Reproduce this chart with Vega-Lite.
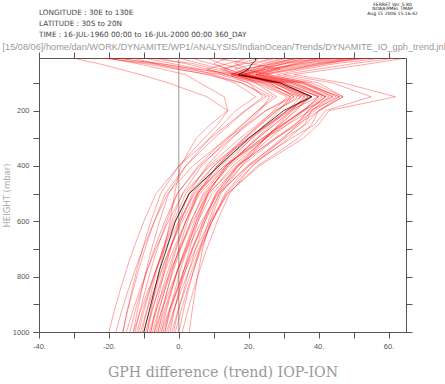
{
"$schema": "https://vega.github.io/schema/vega-lite/v6.json",
"autosize": {"type": "none"},
"padding": {"left": 39, "top": 58, "right": 39, "bottom": 52},
"width": 367,
"height": 274,
"config": {"view": {"stroke": null}, "axis": {"grid": false}},
"title": {"text": ["LONGITUDE : 30E to 130E", "LATITUDE : 30S to 20N", "TIME : 16-JUL-1960 00:00 to 16-JUL-2000 00:00 360_DAY"], "anchor": "start", "frame": "group", "font": "DejaVu Sans", "fontSize": 7.3, "fontWeight": "normal", "color": "#444", "lineHeight": 11, "baseline": "bottom", "offset": -45},
"data": {"values": [
{"s":0,"p":1000,"v":-10},{"s":0,"p":925,"v":-8.5},{"s":0,"p":850,"v":-7},{"s":0,"p":775,"v":-5.5},{"s":0,"p":700,"v":-3.5},{"s":0,"p":600,"v":-1},{"s":0,"p":500,"v":3},{"s":0,"p":400,"v":11.5},{"s":0,"p":300,"v":20},{"s":0,"p":250,"v":25},{"s":0,"p":200,"v":30},{"s":0,"p":150,"v":38},{"s":0,"p":100,"v":29},{"s":0,"p":70,"v":17},{"s":0,"p":50,"v":20},{"s":0,"p":30,"v":21},{"s":0,"p":20,"v":22},{"s":0,"p":10,"v":22},
{"s":1,"p":1000,"v":-20},{"s":1,"p":925,"v":-18.5},{"s":1,"p":850,"v":-16.8},{"s":1,"p":775,"v":-15},{"s":1,"p":700,"v":-13},{"s":1,"p":600,"v":-10},{"s":1,"p":500,"v":-6.5},{"s":1,"p":400,"v":0},{"s":1,"p":300,"v":9},{"s":1,"p":250,"v":14},{"s":1,"p":200,"v":19},{"s":1,"p":150,"v":25},{"s":1,"p":100,"v":18},{"s":1,"p":70,"v":10},{"s":1,"p":50,"v":4},{"s":1,"p":30,"v":-5},{"s":1,"p":20,"v":-12},{"s":1,"p":10,"v":-18},
{"s":2,"p":1000,"v":-18},{"s":2,"p":925,"v":-16.4},{"s":2,"p":850,"v":-14.5},{"s":2,"p":775,"v":-12.5},{"s":2,"p":700,"v":-10.3},{"s":2,"p":600,"v":-7},{"s":2,"p":500,"v":-3.2},{"s":2,"p":400,"v":4},{"s":2,"p":300,"v":13.9},{"s":2,"p":250,"v":19.4},{"s":2,"p":200,"v":24.9},{"s":2,"p":150,"v":32},{"s":2,"p":100,"v":24},{"s":2,"p":70,"v":15},{"s":2,"p":50,"v":19},{"s":2,"p":30,"v":28},{"s":2,"p":20,"v":33},{"s":2,"p":10,"v":38},
{"s":3,"p":1000,"v":-16},{"s":3,"p":925,"v":-14.7},{"s":3,"p":850,"v":-13.1},{"s":3,"p":775,"v":-11.5},{"s":3,"p":700,"v":-9.7},{"s":3,"p":600,"v":-7},{"s":3,"p":500,"v":-3.9},{"s":3,"p":400,"v":2},{"s":3,"p":300,"v":10.1},{"s":3,"p":250,"v":14.6},{"s":3,"p":200,"v":19.1},{"s":3,"p":150,"v":24},{"s":3,"p":100,"v":20},{"s":3,"p":70,"v":14},{"s":3,"p":50,"v":8},{"s":3,"p":30,"v":2},{"s":3,"p":20,"v":-3},{"s":3,"p":10,"v":-8},
{"s":4,"p":1000,"v":-15},{"s":4,"p":925,"v":-13.2},{"s":4,"p":850,"v":-11.2},{"s":4,"p":775,"v":-9},{"s":4,"p":700,"v":-6.6},{"s":4,"p":600,"v":-3},{"s":4,"p":500,"v":1.2},{"s":4,"p":400,"v":9},{"s":4,"p":300,"v":19.8},{"s":4,"p":250,"v":25.8},{"s":4,"p":200,"v":31.8},{"s":4,"p":150,"v":40},{"s":4,"p":100,"v":30},{"s":4,"p":70,"v":18},{"s":4,"p":50,"v":25},{"s":4,"p":30,"v":35},{"s":4,"p":20,"v":42},{"s":4,"p":10,"v":50},
{"s":5,"p":1000,"v":-14},{"s":5,"p":925,"v":-12.5},{"s":5,"p":850,"v":-10.8},{"s":5,"p":775,"v":-9},{"s":5,"p":700,"v":-7},{"s":5,"p":600,"v":-4},{"s":5,"p":500,"v":-0.5},{"s":5,"p":400,"v":6},{"s":5,"p":300,"v":15},{"s":5,"p":250,"v":20},{"s":5,"p":200,"v":25},{"s":5,"p":150,"v":33},{"s":5,"p":100,"v":26},{"s":5,"p":70,"v":16},{"s":5,"p":50,"v":12},{"s":5,"p":30,"v":18},{"s":5,"p":20,"v":20},{"s":5,"p":10,"v":24},
{"s":6,"p":1000,"v":-13},{"s":6,"p":925,"v":-11},{"s":6,"p":850,"v":-8.8},{"s":6,"p":775,"v":-6.5},{"s":6,"p":700,"v":-3.9},{"s":6,"p":600,"v":0},{"s":6,"p":500,"v":4.6},{"s":6,"p":400,"v":13},{"s":6,"p":300,"v":24.7},{"s":6,"p":250,"v":31.2},{"s":6,"p":200,"v":37.7},{"s":6,"p":150,"v":46},{"s":6,"p":100,"v":35},{"s":6,"p":70,"v":22},{"s":6,"p":50,"v":30},{"s":6,"p":30,"v":40},{"s":6,"p":20,"v":48},{"s":6,"p":10,"v":55},
{"s":7,"p":1000,"v":-12.5},{"s":7,"p":925,"v":-11.2},{"s":7,"p":850,"v":-9.6},{"s":7,"p":775,"v":-8},{"s":7,"p":700,"v":-6.2},{"s":7,"p":600,"v":-3.5},{"s":7,"p":500,"v":-0.4},{"s":7,"p":400,"v":5.5},{"s":7,"p":300,"v":13.6},{"s":7,"p":250,"v":18.1},{"s":7,"p":200,"v":22.6},{"s":7,"p":150,"v":28},{"s":7,"p":100,"v":22},{"s":7,"p":70,"v":17},{"s":7,"p":50,"v":5},{"s":7,"p":30,"v":-6},{"s":7,"p":20,"v":-12},{"s":7,"p":10,"v":-17},
{"s":8,"p":1000,"v":-12},{"s":8,"p":925,"v":-10.4},{"s":8,"p":850,"v":-8.5},{"s":8,"p":775,"v":-6.5},{"s":8,"p":700,"v":-4.3},{"s":8,"p":600,"v":-1},{"s":8,"p":500,"v":2.9},{"s":8,"p":400,"v":10},{"s":8,"p":300,"v":19.9},{"s":8,"p":250,"v":25.4},{"s":8,"p":200,"v":30.9},{"s":8,"p":150,"v":38},{"s":8,"p":100,"v":28},{"s":8,"p":70,"v":16},{"s":8,"p":50,"v":22},{"s":8,"p":30,"v":30},{"s":8,"p":20,"v":35},{"s":8,"p":10,"v":42},
{"s":9,"p":1000,"v":-11.5},{"s":9,"p":925,"v":-10},{"s":9,"p":850,"v":-8.3},{"s":9,"p":775,"v":-6.5},{"s":9,"p":700,"v":-4.5},{"s":9,"p":600,"v":-1.5},{"s":9,"p":500,"v":2},{"s":9,"p":400,"v":8.5},{"s":9,"p":300,"v":17.5},{"s":9,"p":250,"v":22.5},{"s":9,"p":200,"v":27.5},{"s":9,"p":150,"v":35},{"s":9,"p":100,"v":27},{"s":9,"p":70,"v":19},{"s":9,"p":50,"v":14},{"s":9,"p":30,"v":10},{"s":9,"p":20,"v":12},{"s":9,"p":10,"v":15},
{"s":10,"p":1000,"v":-11},{"s":10,"p":925,"v":-9.2},{"s":10,"p":850,"v":-7.2},{"s":10,"p":775,"v":-5},{"s":10,"p":700,"v":-2.6},{"s":10,"p":600,"v":1},{"s":10,"p":500,"v":5.2},{"s":10,"p":400,"v":13},{"s":10,"p":300,"v":23.8},{"s":10,"p":250,"v":29.8},{"s":10,"p":200,"v":35.8},{"s":10,"p":150,"v":42},{"s":10,"p":100,"v":33},{"s":10,"p":70,"v":21},{"s":10,"p":50,"v":27},{"s":10,"p":30,"v":33},{"s":10,"p":20,"v":38},{"s":10,"p":10,"v":45},
{"s":11,"p":1000,"v":-10.5},{"s":11,"p":925,"v":-9.2},{"s":11,"p":850,"v":-7.8},{"s":11,"p":775,"v":-6.3},{"s":11,"p":700,"v":-4.6},{"s":11,"p":600,"v":-2},{"s":11,"p":500,"v":1},{"s":11,"p":400,"v":6.5},{"s":11,"p":300,"v":14.2},{"s":11,"p":250,"v":18.4},{"s":11,"p":200,"v":22.7},{"s":11,"p":150,"v":27},{"s":11,"p":100,"v":20},{"s":11,"p":70,"v":12},{"s":11,"p":50,"v":2},{"s":11,"p":30,"v":-8},{"s":11,"p":20,"v":-15},{"s":11,"p":10,"v":-22},
{"s":12,"p":1000,"v":-10},{"s":12,"p":925,"v":-8.4},{"s":12,"p":850,"v":-6.6},{"s":12,"p":775,"v":-4.8},{"s":12,"p":700,"v":-2.7},{"s":12,"p":600,"v":0.5},{"s":12,"p":500,"v":4.2},{"s":12,"p":400,"v":11},{"s":12,"p":300,"v":20.5},{"s":12,"p":250,"v":25.7},{"s":12,"p":200,"v":31},{"s":12,"p":150,"v":38},{"s":12,"p":100,"v":30},{"s":12,"p":70,"v":18},{"s":12,"p":50,"v":24},{"s":12,"p":30,"v":26},{"s":12,"p":20,"v":30},{"s":12,"p":10,"v":33},
{"s":13,"p":1000,"v":-9.5},{"s":13,"p":925,"v":-7.8},{"s":13,"p":850,"v":-5.8},{"s":13,"p":775,"v":-3.8},{"s":13,"p":700,"v":-1.5},{"s":13,"p":600,"v":2},{"s":13,"p":500,"v":6},{"s":13,"p":400,"v":13.5},{"s":13,"p":300,"v":23.9},{"s":13,"p":250,"v":29.6},{"s":13,"p":200,"v":35.4},{"s":13,"p":150,"v":44},{"s":13,"p":100,"v":36},{"s":13,"p":70,"v":24},{"s":13,"p":50,"v":32},{"s":13,"p":30,"v":42},{"s":13,"p":20,"v":46},{"s":13,"p":10,"v":52},
{"s":14,"p":1000,"v":-9},{"s":14,"p":925,"v":-7.6},{"s":14,"p":850,"v":-6},{"s":14,"p":775,"v":-4.3},{"s":14,"p":700,"v":-2.4},{"s":14,"p":600,"v":0.5},{"s":14,"p":500,"v":3.8},{"s":14,"p":400,"v":10},{"s":14,"p":300,"v":18.6},{"s":14,"p":250,"v":23.3},{"s":14,"p":200,"v":28},{"s":14,"p":150,"v":34},{"s":14,"p":100,"v":25},{"s":14,"p":70,"v":15},{"s":14,"p":50,"v":20},{"s":14,"p":30,"v":16},{"s":14,"p":20,"v":18},{"s":14,"p":10,"v":20},
{"s":15,"p":1000,"v":-8.5},{"s":15,"p":925,"v":-6.6},{"s":15,"p":850,"v":-4.5},{"s":15,"p":775,"v":-2.3},{"s":15,"p":700,"v":0.3},{"s":15,"p":600,"v":4},{"s":15,"p":500,"v":8.4},{"s":15,"p":400,"v":16.5},{"s":15,"p":300,"v":27.8},{"s":15,"p":250,"v":34},{"s":15,"p":200,"v":40.3},{"s":15,"p":150,"v":47},{"s":15,"p":100,"v":40},{"s":15,"p":70,"v":28},{"s":15,"p":50,"v":36},{"s":15,"p":30,"v":45},{"s":15,"p":20,"v":52},{"s":15,"p":10,"v":58},
{"s":16,"p":1000,"v":-8},{"s":16,"p":925,"v":-6.5},{"s":16,"p":850,"v":-4.8},{"s":16,"p":775,"v":-3},{"s":16,"p":700,"v":-1},{"s":16,"p":600,"v":2},{"s":16,"p":500,"v":5.5},{"s":16,"p":400,"v":12},{"s":16,"p":300,"v":21},{"s":16,"p":250,"v":26},{"s":16,"p":200,"v":31},{"s":16,"p":150,"v":37},{"s":16,"p":100,"v":28},{"s":16,"p":70,"v":17},{"s":16,"p":50,"v":12},{"s":16,"p":30,"v":6},{"s":16,"p":20,"v":3},{"s":16,"p":10,"v":0},
{"s":17,"p":1000,"v":-8},{"s":17,"p":925,"v":-6.8},{"s":17,"p":850,"v":-5.4},{"s":17,"p":775,"v":-4},{"s":17,"p":700,"v":-2.4},{"s":17,"p":600,"v":0},{"s":17,"p":500,"v":2.8},{"s":17,"p":400,"v":8},{"s":17,"p":300,"v":15.2},{"s":17,"p":250,"v":19.2},{"s":17,"p":200,"v":23.2},{"s":17,"p":150,"v":26},{"s":17,"p":100,"v":18},{"s":17,"p":70,"v":8},{"s":17,"p":50,"v":0},{"s":17,"p":30,"v":-7},{"s":17,"p":20,"v":-10},{"s":17,"p":10,"v":-13},
{"s":18,"p":1000,"v":-7.5},{"s":18,"p":925,"v":-5.9},{"s":18,"p":850,"v":-4},{"s":18,"p":775,"v":-2},{"s":18,"p":700,"v":0.2},{"s":18,"p":600,"v":3.5},{"s":18,"p":500,"v":7.4},{"s":18,"p":400,"v":14.5},{"s":18,"p":300,"v":24.4},{"s":18,"p":250,"v":29.9},{"s":18,"p":200,"v":35.4},{"s":18,"p":150,"v":41},{"s":18,"p":100,"v":32},{"s":18,"p":70,"v":18},{"s":18,"p":50,"v":26},{"s":18,"p":30,"v":36},{"s":18,"p":20,"v":40},{"s":18,"p":10,"v":46},
{"s":19,"p":1000,"v":-7},{"s":19,"p":925,"v":-5.7},{"s":19,"p":850,"v":-4.1},{"s":19,"p":775,"v":-2.5},{"s":19,"p":700,"v":-0.7},{"s":19,"p":600,"v":2},{"s":19,"p":500,"v":5.2},{"s":19,"p":400,"v":11},{"s":19,"p":300,"v":19.1},{"s":19,"p":250,"v":23.6},{"s":19,"p":200,"v":28.1},{"s":19,"p":150,"v":33},{"s":19,"p":100,"v":26},{"s":19,"p":70,"v":20},{"s":19,"p":50,"v":16},{"s":19,"p":30,"v":22},{"s":19,"p":20,"v":25},{"s":19,"p":10,"v":28},
{"s":20,"p":1000,"v":-7},{"s":20,"p":925,"v":-5},{"s":20,"p":850,"v":-2.7},{"s":20,"p":775,"v":-0.3},{"s":20,"p":700,"v":2.5},{"s":20,"p":600,"v":6.5},{"s":20,"p":500,"v":11.2},{"s":20,"p":400,"v":20},{"s":20,"p":300,"v":32.2},{"s":20,"p":250,"v":38.9},{"s":20,"p":200,"v":42},{"s":20,"p":150,"v":55},{"s":20,"p":100,"v":44},{"s":20,"p":70,"v":30},{"s":20,"p":50,"v":40},{"s":20,"p":30,"v":50},{"s":20,"p":20,"v":56},{"s":20,"p":10,"v":62},
{"s":21,"p":1000,"v":-6.5},{"s":21,"p":925,"v":-5},{"s":21,"p":850,"v":-3.3},{"s":21,"p":775,"v":-1.5},{"s":21,"p":700,"v":0.5},{"s":21,"p":600,"v":3.5},{"s":21,"p":500,"v":7},{"s":21,"p":400,"v":13.5},{"s":21,"p":300,"v":22.5},{"s":21,"p":250,"v":27.5},{"s":21,"p":200,"v":32.5},{"s":21,"p":150,"v":38},{"s":21,"p":100,"v":29},{"s":21,"p":70,"v":17},{"s":21,"p":50,"v":21},{"s":21,"p":30,"v":24},{"s":21,"p":20,"v":27},{"s":21,"p":10,"v":30},
{"s":22,"p":1000,"v":-6},{"s":22,"p":925,"v":-4.3},{"s":22,"p":850,"v":-2.3},{"s":22,"p":775,"v":-0.3},{"s":22,"p":700,"v":2.1},{"s":22,"p":600,"v":5.5},{"s":22,"p":500,"v":9.5},{"s":22,"p":400,"v":17},{"s":22,"p":300,"v":27.4},{"s":22,"p":250,"v":33.1},{"s":22,"p":200,"v":38.9},{"s":22,"p":150,"v":45},{"s":22,"p":100,"v":37},{"s":22,"p":70,"v":26},{"s":22,"p":50,"v":18},{"s":22,"p":30,"v":12},{"s":22,"p":20,"v":10},{"s":22,"p":10,"v":8},
{"s":23,"p":1000,"v":-6},{"s":23,"p":925,"v":-4.7},{"s":23,"p":850,"v":-3.3},{"s":23,"p":775,"v":-1.8},{"s":23,"p":700,"v":0},{"s":23,"p":600,"v":2.5},{"s":23,"p":500,"v":5.5},{"s":23,"p":400,"v":11},{"s":23,"p":300,"v":18.7},{"s":23,"p":250,"v":22.9},{"s":23,"p":200,"v":27.2},{"s":23,"p":150,"v":31},{"s":23,"p":100,"v":22},{"s":23,"p":70,"v":14},{"s":23,"p":50,"v":8},{"s":23,"p":30,"v":14},{"s":23,"p":20,"v":17},{"s":23,"p":10,"v":19},
{"s":24,"p":1000,"v":-5.5},{"s":24,"p":925,"v":-3.9},{"s":24,"p":850,"v":-2.1},{"s":24,"p":775,"v":-0.3},{"s":24,"p":700,"v":1.9},{"s":24,"p":600,"v":5},{"s":24,"p":500,"v":8.7},{"s":24,"p":400,"v":15.5},{"s":24,"p":300,"v":25},{"s":24,"p":250,"v":30.2},{"s":24,"p":200,"v":35.5},{"s":24,"p":150,"v":40},{"s":24,"p":100,"v":31},{"s":24,"p":70,"v":19},{"s":24,"p":50,"v":28},{"s":24,"p":30,"v":38},{"s":24,"p":20,"v":44},{"s":24,"p":10,"v":48},
{"s":25,"p":1000,"v":-5},{"s":25,"p":925,"v":-2.9},{"s":25,"p":850,"v":-0.5},{"s":25,"p":775,"v":2},{"s":25,"p":700,"v":4.8},{"s":25,"p":600,"v":9},{"s":25,"p":500,"v":13.9},{"s":25,"p":400,"v":23},{"s":25,"p":300,"v":35.6},{"s":25,"p":250,"v":40},{"s":25,"p":200,"v":43},{"s":25,"p":150,"v":62},{"s":25,"p":100,"v":47},{"s":25,"p":70,"v":33},{"s":25,"p":50,"v":44},{"s":25,"p":30,"v":55},{"s":25,"p":20,"v":60},{"s":25,"p":10,"v":65},
{"s":26,"p":1000,"v":-5},{"s":26,"p":925,"v":-3.6},{"s":26,"p":850,"v":-2},{"s":26,"p":775,"v":-0.3},{"s":26,"p":700,"v":1.7},{"s":26,"p":600,"v":4.5},{"s":26,"p":500,"v":7.8},{"s":26,"p":400,"v":14},{"s":26,"p":300,"v":22.6},{"s":26,"p":250,"v":27.3},{"s":26,"p":200,"v":32},{"s":26,"p":150,"v":36},{"s":26,"p":100,"v":27},{"s":26,"p":70,"v":16},{"s":26,"p":50,"v":10},{"s":26,"p":30,"v":4},{"s":26,"p":20,"v":-2},{"s":26,"p":10,"v":-6},
{"s":27,"p":1000,"v":-4.5},{"s":27,"p":925,"v":-2.7},{"s":27,"p":850,"v":-0.7},{"s":27,"p":775,"v":1.5},{"s":27,"p":700,"v":3.9},{"s":27,"p":600,"v":7.5},{"s":27,"p":500,"v":11.7},{"s":27,"p":400,"v":19.5},{"s":27,"p":300,"v":30.3},{"s":27,"p":250,"v":36.3},{"s":27,"p":200,"v":40},{"s":27,"p":150,"v":47},{"s":27,"p":100,"v":38},{"s":27,"p":70,"v":25},{"s":27,"p":50,"v":34},{"s":27,"p":30,"v":43},{"s":27,"p":20,"v":47},{"s":27,"p":10,"v":53},
{"s":28,"p":1000,"v":-4},{"s":28,"p":925,"v":-2.7},{"s":28,"p":850,"v":-1.1},{"s":28,"p":775,"v":0.5},{"s":28,"p":700,"v":2.3},{"s":28,"p":600,"v":5},{"s":28,"p":500,"v":8.2},{"s":28,"p":400,"v":14},{"s":28,"p":300,"v":22.1},{"s":28,"p":250,"v":26.6},{"s":28,"p":200,"v":31.1},{"s":28,"p":150,"v":35},{"s":28,"p":100,"v":24},{"s":28,"p":70,"v":15},{"s":28,"p":50,"v":19},{"s":28,"p":30,"v":27},{"s":28,"p":20,"v":30},{"s":28,"p":10,"v":35},
{"s":29,"p":1000,"v":-4},{"s":29,"p":925,"v":-2.4},{"s":29,"p":850,"v":-0.5},{"s":29,"p":775,"v":1.5},{"s":29,"p":700,"v":3.7},{"s":29,"p":600,"v":7},{"s":29,"p":500,"v":10.9},{"s":29,"p":400,"v":18},{"s":29,"p":300,"v":27.9},{"s":29,"p":250,"v":33.4},{"s":29,"p":200,"v":37},{"s":29,"p":150,"v":42},{"s":29,"p":100,"v":34},{"s":29,"p":70,"v":22},{"s":29,"p":50,"v":29},{"s":29,"p":30,"v":20},{"s":29,"p":20,"v":15},{"s":29,"p":10,"v":10},
{"s":30,"p":1000,"v":-3.5},{"s":30,"p":925,"v":-1.6},{"s":30,"p":850,"v":0.7},{"s":30,"p":775,"v":3},{"s":30,"p":700,"v":5.6},{"s":30,"p":600,"v":9.5},{"s":30,"p":500,"v":14},{"s":30,"p":400,"v":22.5},{"s":30,"p":300,"v":34.2},{"s":30,"p":250,"v":38},{"s":30,"p":200,"v":40},{"s":30,"p":150,"v":46},{"s":30,"p":100,"v":36},{"s":30,"p":70,"v":23},{"s":30,"p":50,"v":33},{"s":30,"p":30,"v":40},{"s":30,"p":20,"v":45},{"s":30,"p":10,"v":50},
{"s":31,"p":1000,"v":-3},{"s":31,"p":925,"v":-1.5},{"s":31,"p":850,"v":0.2},{"s":31,"p":775,"v":2},{"s":31,"p":700,"v":4},{"s":31,"p":600,"v":7},{"s":31,"p":500,"v":10.5},{"s":31,"p":400,"v":17},{"s":31,"p":300,"v":26},{"s":31,"p":250,"v":31},{"s":31,"p":200,"v":36},{"s":31,"p":150,"v":40},{"s":31,"p":100,"v":30},{"s":31,"p":70,"v":18},{"s":31,"p":50,"v":23},{"s":31,"p":30,"v":31},{"s":31,"p":20,"v":36},{"s":31,"p":10,"v":40},
{"s":32,"p":1000,"v":-2.5},{"s":32,"p":925,"v":-1.3},{"s":32,"p":850,"v":0.1},{"s":32,"p":775,"v":1.5},{"s":32,"p":700,"v":3.1},{"s":32,"p":600,"v":5.5},{"s":32,"p":500,"v":8.3},{"s":32,"p":400,"v":13.5},{"s":32,"p":300,"v":20.7},{"s":32,"p":250,"v":24.7},{"s":32,"p":200,"v":28.7},{"s":32,"p":150,"v":32},{"s":32,"p":100,"v":23},{"s":32,"p":70,"v":13},{"s":32,"p":50,"v":6},{"s":32,"p":30,"v":-2},{"s":32,"p":20,"v":-6},{"s":32,"p":10,"v":-10},
{"s":33,"p":1000,"v":-2},{"s":33,"p":925,"v":-0.3},{"s":33,"p":850,"v":1.7},{"s":33,"p":775,"v":3.8},{"s":33,"p":700,"v":6.1},{"s":33,"p":600,"v":9.5},{"s":33,"p":500,"v":13.5},{"s":33,"p":400,"v":21},{"s":33,"p":300,"v":31.4},{"s":33,"p":250,"v":36},{"s":33,"p":200,"v":38},{"s":33,"p":150,"v":44},{"s":33,"p":100,"v":35},{"s":33,"p":70,"v":22},{"s":33,"p":50,"v":28},{"s":33,"p":30,"v":34},{"s":33,"p":20,"v":37},{"s":33,"p":10,"v":43},
{"s":34,"p":1000,"v":-1.5},{"s":34,"p":925,"v":-0.2},{"s":34,"p":850,"v":1.4},{"s":34,"p":775,"v":3},{"s":34,"p":700,"v":4.8},{"s":34,"p":600,"v":7.5},{"s":34,"p":500,"v":10.7},{"s":34,"p":400,"v":16.5},{"s":34,"p":300,"v":24.6},{"s":34,"p":250,"v":29.1},{"s":34,"p":200,"v":33.6},{"s":34,"p":150,"v":37},{"s":34,"p":100,"v":28},{"s":34,"p":70,"v":17},{"s":34,"p":50,"v":13},{"s":34,"p":30,"v":19},{"s":34,"p":20,"v":24},{"s":34,"p":10,"v":27},
{"s":35,"p":1000,"v":-1},{"s":35,"p":925,"v":0.6},{"s":35,"p":850,"v":2.4},{"s":35,"p":775,"v":4.3},{"s":35,"p":700,"v":6.4},{"s":35,"p":600,"v":9.5},{"s":35,"p":500,"v":13.2},{"s":35,"p":400,"v":20},{"s":35,"p":300,"v":29.5},{"s":35,"p":250,"v":34.7},{"s":35,"p":200,"v":38},{"s":35,"p":150,"v":43},{"s":35,"p":100,"v":33},{"s":35,"p":70,"v":20},{"s":35,"p":50,"v":25},{"s":35,"p":30,"v":30},{"s":35,"p":20,"v":33},{"s":35,"p":10,"v":36},
{"s":36,"p":1000,"v":0},{"s":36,"p":925,"v":1.3},{"s":36,"p":850,"v":2.7},{"s":36,"p":775,"v":4.3},{"s":36,"p":700,"v":6},{"s":36,"p":600,"v":8.5},{"s":36,"p":500,"v":11.5},{"s":36,"p":400,"v":17},{"s":36,"p":300,"v":24.7},{"s":36,"p":250,"v":28.9},{"s":36,"p":200,"v":33.2},{"s":36,"p":150,"v":38},{"s":36,"p":100,"v":29},{"s":36,"p":70,"v":18},{"s":36,"p":50,"v":14},{"s":36,"p":30,"v":9},{"s":36,"p":20,"v":6},{"s":36,"p":10,"v":4},
{"s":37,"p":1000,"v":1},{"s":37,"p":925,"v":2.5},{"s":37,"p":850,"v":4.2},{"s":37,"p":775,"v":6},{"s":37,"p":700,"v":8},{"s":37,"p":600,"v":11},{"s":37,"p":500,"v":14.5},{"s":37,"p":400,"v":21},{"s":37,"p":300,"v":30},{"s":37,"p":250,"v":34},{"s":37,"p":200,"v":37},{"s":37,"p":150,"v":42},{"s":37,"p":100,"v":32},{"s":37,"p":70,"v":19},{"s":37,"p":50,"v":24},{"s":37,"p":30,"v":28},{"s":37,"p":20,"v":31},{"s":37,"p":10,"v":34},
{"s":38,"p":1000,"v":3},{"s":38,"p":925,"v":3.8},{"s":38,"p":850,"v":4.7},{"s":38,"p":775,"v":5.7},{"s":38,"p":700,"v":6.8},{"s":38,"p":600,"v":9},{"s":38,"p":500,"v":12},{"s":38,"p":400,"v":18},{"s":38,"p":300,"v":24.8},{"s":38,"p":250,"v":28.5},{"s":38,"p":200,"v":32.3},{"s":38,"p":150,"v":36},{"s":38,"p":100,"v":27},{"s":38,"p":70,"v":17},{"s":38,"p":50,"v":22},{"s":38,"p":30,"v":25},{"s":38,"p":20,"v":28},{"s":38,"p":10,"v":31},
{"s":39,"p":1000,"v":-13},{"s":39,"p":925,"v":-11.9},{"s":39,"p":850,"v":-10.6},{"s":39,"p":775,"v":-9.3},{"s":39,"p":700,"v":-7.8},{"s":39,"p":600,"v":-5.5},{"s":39,"p":500,"v":-2.9},{"s":39,"p":400,"v":2},{"s":39,"p":300,"v":8.8},{"s":39,"p":250,"v":12.5},{"s":39,"p":200,"v":16.3},{"s":39,"p":150,"v":22},{"s":39,"p":100,"v":16},{"s":39,"p":70,"v":9},{"s":39,"p":50,"v":-1},{"s":39,"p":30,"v":-10},{"s":39,"p":20,"v":-16},{"s":39,"p":10,"v":-21},
{"s":40,"p":1000,"v":-9},{"s":40,"p":925,"v":-8},{"s":40,"p":850,"v":-6.8},{"s":40,"p":775,"v":-5.5},{"s":40,"p":700,"v":-4.2},{"s":40,"p":600,"v":-2.5},{"s":40,"p":500,"v":-1.2},{"s":40,"p":400,"v":0.5},{"s":40,"p":300,"v":5},{"s":40,"p":250,"v":9},{"s":40,"p":200,"v":14},{"s":40,"p":150,"v":8},{"s":40,"p":100,"v":-3},{"s":40,"p":70,"v":-11},{"s":40,"p":50,"v":-17},{"s":40,"p":30,"v":-23},{"s":40,"p":20,"v":-27},{"s":40,"p":10,"v":-30},
{"s":41,"p":1000,"v":-16},{"s":41,"p":925,"v":-14.8},{"s":41,"p":850,"v":-13.4},{"s":41,"p":775,"v":-12},{"s":41,"p":700,"v":-10.4},{"s":41,"p":600,"v":-8},{"s":41,"p":500,"v":-5.2},{"s":41,"p":400,"v":0},{"s":41,"p":300,"v":7.2},{"s":41,"p":250,"v":11.2},{"s":41,"p":200,"v":14},{"s":41,"p":150,"v":13},{"s":41,"p":100,"v":6},{"s":41,"p":70,"v":2},{"s":41,"p":50,"v":-5},{"s":41,"p":30,"v":-12},{"s":41,"p":20,"v":-16},{"s":41,"p":10,"v":-20}
]},
"layer": [
{"data": {"values": [{"v": 0}]},
 "mark": {"type": "rule", "color": "#9a9a9a", "strokeWidth": 1},
 "encoding": {"x": {"field": "v", "type": "quantitative",
   "scale": {"domain": [-40, 65], "nice": false, "zero": false},
   "axis": {"orient": "bottom", "values": [-40,-30,-20,-10,0,10,20,30,40,50,60],
     "labelExpr": "datum.value % 20 == 0 ? datum.value + '.' : ''",
     "tickSize": 6, "tickColor": "#555", "domainColor": "#555", "labelColor": "#555",
     "labelFont": "Liberation Sans", "labelFontSize": 7.5, "labelPadding": 4, "labelFlush": false,
     "title": "GPH difference (trend) IOP-ION", "titleFont": "DejaVu Serif", "titleFontSize": 14.2,
     "titleFontWeight": "normal", "titleColor": "#999", "titlePadding": 16}}}},
{"transform": [{"filter": "datum.s > 0"}],
 "mark": {"type": "line", "color": "#ff0000", "strokeWidth": 1, "opacity": 0.35, "clip": true},
 "encoding": {
   "detail": {"field": "s", "type": "nominal"},
   "order": {"field": "p", "type": "quantitative"},
   "x": {"field": "v", "type": "quantitative",
     "axis": {"orient": "top", "values": [-40,-30,-20,-10,0,10,20,30,40,50,60], "labels": false,
       "tickSize": 6, "tickColor": "#555", "domainColor": "#555",
       "title": "[15/08/06]/home/dan/WORK/DYNAMITE/WP1/ANALYSIS/IndianOcean/Trends/DYNAMITE_IO_gph_trend.jnl",
       "titleAnchor": "start", "titleAlign": "left", "titleAngle": 0, "titleX": -37, "titleY": -12, "titleBaseline": "middle",
       "titleFont": "Liberation Sans", "titleFontSize": 9.2, "titleFontWeight": "normal", "titleColor": "#999"}},
   "y": {"field": "p", "type": "quantitative",
     "scale": {"domain": [10, 1000], "reverse": true, "nice": false, "zero": false},
     "axis": {"orient": "left", "values": [100,200,300,400,500,600,700,800,900,1000],
       "labelExpr": "datum.value % 200 == 0 ? datum.value : ''",
       "tickSize": 6, "tickColor": "#555", "domainColor": "#555", "labelColor": "#555",
       "labelFont": "Liberation Sans", "labelFontSize": 7.5, "labelPadding": 4,
       "title": "HEIGHT (mbar)", "titleFont": "DejaVu Sans", "titleFontSize": 8.5, "titleFontWeight": "normal",
       "titleColor": "#aaa", "titlePadding": 1}}}},
{"transform": [{"filter": "datum.s == 0"}],
 "mark": {"type": "line", "color": "#000000", "strokeWidth": 1, "opacity": 0.75, "clip": true},
 "encoding": {
   "order": {"field": "p", "type": "quantitative"},
   "x": {"field": "v", "type": "quantitative", "axis": null},
   "y": {"field": "p", "type": "quantitative",
     "axis": {"orient": "right", "values": [100,200,300,400,500,600,700,800,900,1000], "labels": false,
       "tickSize": 6, "tickColor": "#555", "domainColor": "#555",
       "title": ["FERRET Ver. 5.80", "NOAA/PMEL TMAP", "Aug 15 2006 15:16:42"],
       "titleAngle": 0, "titleAlign": "center", "titleBaseline": "top", "titleX": -14, "titleY": -57,
       "titleFont": "DejaVu Sans", "titleFontSize": 4.5, "titleLineHeight": 4.5, "titleFontWeight": "normal", "titleColor": "#222"}}}}
],
"resolve": {"axis": {"x": "independent", "y": "independent"}}
}
